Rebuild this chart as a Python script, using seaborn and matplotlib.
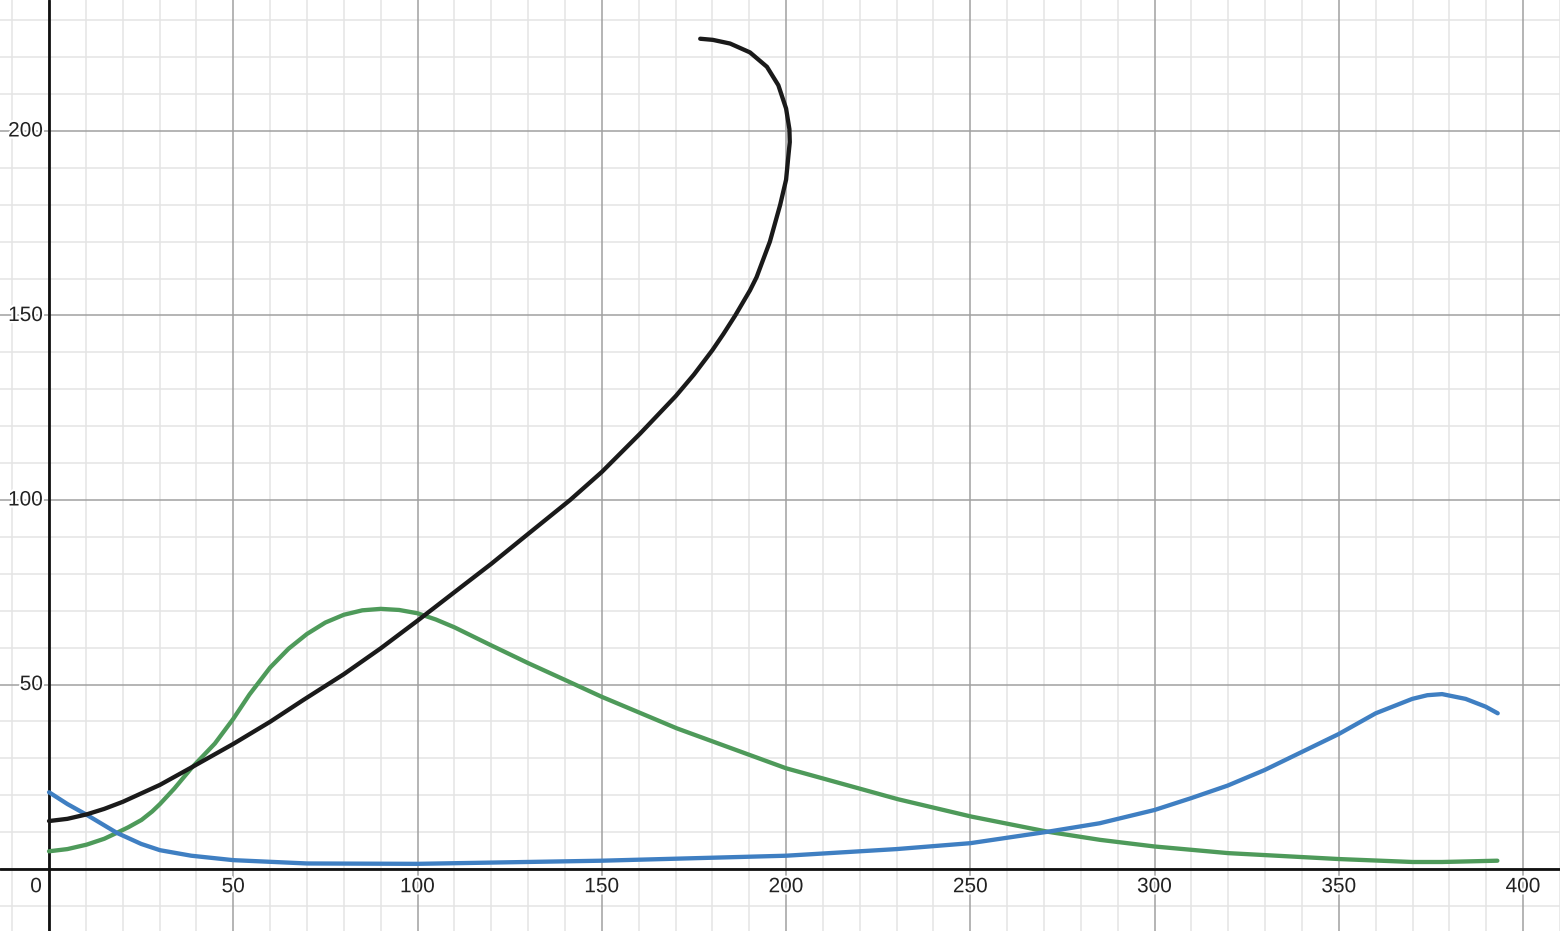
import numpy as np
import pandas as pd
import matplotlib
matplotlib.use("Agg")
import matplotlib.pyplot as plt
import matplotlib.patheffects as pe
import seaborn as sns

# ---- data ----
green_x = [0, 5, 10.2, 15, 18.4, 21.5, 25.1, 28, 30.1, 34, 38.6, 45, 50, 54.4, 60, 65, 70,
           75, 80, 85, 90, 95, 100, 105, 110, 120, 130, 140.1, 149.9, 170.4, 200, 230.4,
           250.3, 271, 285.2, 300, 320, 350, 370, 378, 393]
green_y = [4.8, 5.4, 6.6, 8.2, 9.8, 11.3, 13.3, 15.6, 17.6, 21.8, 27.3, 34.0, 40.7, 47.3,
           54.6, 59.7, 63.7, 66.8, 68.9, 70.1, 70.5, 70.2, 69.3, 67.6, 65.5, 60.6, 55.8,
           51.2, 46.7, 38.1, 27.3, 18.9, 14.2, 10.1, 7.9, 6.1, 4.3, 2.7, 1.9, 1.9, 2.25]

blue_x = [0, 5, 10.2, 18.4, 25, 30.1, 38.6, 50, 70, 100, 150, 200, 230, 250, 271, 285.1,
          300, 309.9, 319.8, 329.8, 339.7, 350, 360, 369.9, 374, 378, 384.4, 389.8, 393.1]
blue_y = [20.8, 17.6, 14.7, 9.8, 6.8, 5.1, 3.6, 2.4, 1.5, 1.4, 2.25, 3.6, 5.4, 7.0, 10.1,
          12.4, 16.0, 19.2, 22.6, 26.8, 31.6, 36.6, 42.2, 46.1, 47.1, 47.4, 46.1, 44.0, 42.2]

black_x = [0, 5, 10.2, 15, 20, 30.1, 38.6, 50, 60, 69, 80, 90, 100, 110.5, 120, 130, 141.4,
           150, 160.4, 170.1, 175, 180, 183, 186.2, 190.2, 192, 195.6, 198.4, 200, 200.6,
           201, 200.9, 200, 197.9, 194.8, 190.2, 184.8, 180.1, 176.7]
black_y = [13.0, 13.6, 14.8, 16.3, 18.2, 22.8, 27.5, 33.9, 39.9, 45.8, 52.8, 59.8, 67.3,
           75.4, 82.7, 90.8, 100.0, 107.6, 118.0, 128.2, 134.0, 140.6, 145.0, 150.0, 156.8,
           160.4, 170.0, 180.0, 186.8, 193.0, 197.0, 200.5, 206.1, 212.4, 217.4, 221.3,
           223.7, 224.7, 225.0]

x_ticks = [50, 100, 150, 200, 250, 300, 350, 400]
y_ticks = [50, 100, 150, 200]

# ---- figure ----
sns.set_theme(style="white")
plt.rcParams['font.family'] = ['Liberation Sans', 'DejaVu Sans']

fig = plt.figure(figsize=(15.6, 9.31), dpi=100)
ax = fig.add_axes([0, 0, 1, 1])

# grid
for v in range(-10, 420, 10):
    major = v % 50 == 0
    ax.axvline(v, color='#a0a0a0' if major else '#e4e4e4', lw=1.1, zorder=0 if major else -1)
for v in range(-10, 240, 10):
    major = v % 50 == 0
    ax.axhline(v, color='#a0a0a0' if major else '#e4e4e4', lw=1.1, zorder=0 if major else -1)
ax.axvline(0, color='#111111', lw=2.0, zorder=1)
ax.axhline(0, color='#111111', lw=2.0, zorder=1)

df_g = pd.DataFrame({'x': green_x, 'y': green_y})
df_b = pd.DataFrame({'x': blue_x, 'y': blue_y})
df_k = pd.DataFrame({'x': black_x, 'y': black_y})

common = dict(sort=False, estimator=None, ax=ax, lw=3.1, solid_capstyle='round',
              solid_joinstyle='round')
sns.lineplot(data=df_g, x='x', y='y', color='#4e9a5a', zorder=3, **common)
sns.lineplot(data=df_b, x='x', y='y', color='#3f7fc2', zorder=3, **common)
sns.lineplot(data=df_k, x='x', y='y', color='#1a1a1a', zorder=4, **common)
ax.set_xlim(-13.3, 410.0)
ax.set_ylim(-16.8, 235.5)
ax.axis('off')

halo = [pe.withStroke(linewidth=3, foreground='white')]
for t in x_ticks:
    ax.text(t, -4.8, str(t), ha='center', va='center', fontsize=15, color='#222222',
            path_effects=halo, zorder=5)
for t in y_ticks:
    ax.text(-1.6, t, str(t), ha='right', va='center', fontsize=15, color='#222222',
            path_effects=halo, zorder=5)
ax.text(-3.5, -4.8, '0', ha='center', va='center', fontsize=15, color='#222222',
        path_effects=halo, zorder=5)

fig.savefig('out.png', dpi=100)
